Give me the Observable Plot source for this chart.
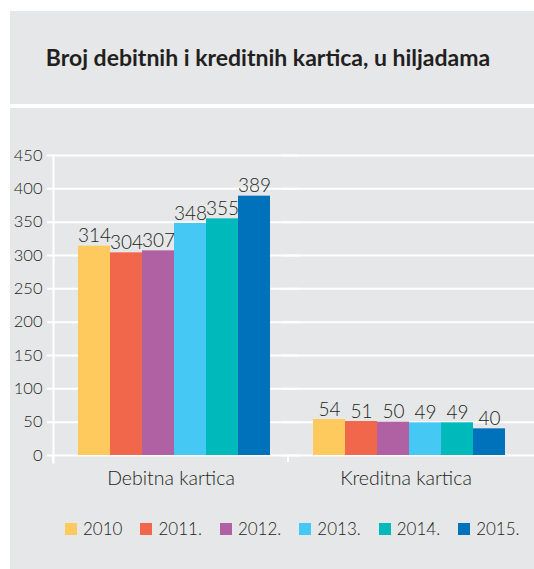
<!DOCTYPE html>
<html>
<head>
<meta charset="utf-8">
<script src="https://cdn.jsdelivr.net/npm/d3@7"></script>
<script src="https://cdn.jsdelivr.net/npm/@observablehq/plot@0.6"></script>
<style>
  html, body { margin: 0; padding: 0; background: #ffffff; }
  body { width: 534px; height: 569px; position: relative; overflow: hidden; font-family: Lato, "Open Sans", sans-serif; color: #231f20; }
  #top { position: absolute; left: 10px; top: 11px; width: 524px; height: 93px; background: #e6e7e8; }
  #title { position: absolute; left: 0; width: 516px; top: 0; height: 93px; line-height: 93px; text-align: center; font-weight: 700; font-size: 23px; }
  #panel { position: absolute; left: 10px; top: 108px; width: 524px; height: 461px; background: #e6e7e8; }
  #chart { position: absolute; left: -10px; top: 0; }
  #legend { position: absolute; left: 55px; top: 410px; display: flex; align-items: center; font-size: 17px; font-weight: 300; }
  .item { display: flex; align-items: center; margin-right: 18px; }
  .sw { width: 12px; height: 12px; margin-right: 6px; }
</style>
</head>
<body>
<div id="top"><div id="title">Broj debitnih i kreditnih kartica, u hiljadama</div></div>
<div id="panel"><div id="chart"></div><div id="legend"></div></div>
<script>
const categories = ["Debitna kartica", "Kreditna kartica"];
const years = ["2010", "2011.", "2012.", "2013.", "2014.", "2015."];
const debitValues = [314, 304, 307, 348, 355, 389];
const creditValues = [54, 51, 50, 49, 49, 40];
const colors = ["#fec95d", "#f1674c", "#b061a4", "#46c8f5", "#00b9bb", "#0072bb"];
const yTicks = [0, 50, 100, 150, 200, 250, 300, 350, 400, 450];

const data = [];
years.forEach((y, i) => data.push({cat: categories[0], year: y, value: debitValues[i]}));
years.forEach((y, i) => data.push({cat: categories[1], year: y, value: creditValues[i]}));

const font = "Lato, 'Open Sans', sans-serif";

const baseTicks = (index, scales, values, dimensions) => {
  const line = d3.create("svg:line")
    .attr("x1", dimensions.marginLeft).attr("x2", dimensions.marginLeft)
    .attr("y1", scales.y(0)).attr("y2", scales.y(0) + 7)
    .attr("stroke", "white").attr("stroke-width", 2);
  return line.node();
};

const chart = Plot.plot({
  width: 534,
  height: 392,
  marginLeft: 53,
  marginRight: 11,
  marginTop: 47,
  marginBottom: 45,
  style: {background: "transparent", fontFamily: font, color: "#231f20", overflow: "visible"},
  fx: {domain: categories, padding: 0},
  x: {domain: years, paddingInner: 0, paddingOuter: 0.67, align: 0.58, axis: null},
  y: {domain: [0, 450]},
  color: {domain: years, range: colors},
  marks: [
    Plot.ruleY(yTicks, {stroke: "white", strokeWidth: 2, insetLeft: -6, insetRight: -11}),
    Plot.frame({anchor: "left", facetAnchor: "left", stroke: "white", strokeWidth: 2, insetBottom: -7}),
    baseTicks,
    Plot.barY(data, {fx: "cat", x: "year", y: "value", fill: "year"}),
    Plot.text(data, {fx: "cat", x: "year", y: "value", text: d => String(d.value), lineAnchor: "bottom", dy: -4, fontSize: 19, fontWeight: 300, fill: "#231f20"}),
    Plot.axisY({ticks: yTicks, tickSize: 0, tickPadding: 11, fontSize: 16.5, fontWeight: 300, label: null}),
    Plot.axisFx({anchor: "bottom", tickSize: 0, tickPadding: 16, fontSize: 19.5, fontWeight: 300, label: null})
  ]
});
document.getElementById("chart").appendChild(chart);

const legend = d3.select("#legend");
years.forEach((y, i) => {
  const it = legend.append("div").attr("class", "item");
  it.append("div").attr("class", "sw").style("background", colors[i]);
  it.append("span").text(y);
});
</script>
</body>
</html>
